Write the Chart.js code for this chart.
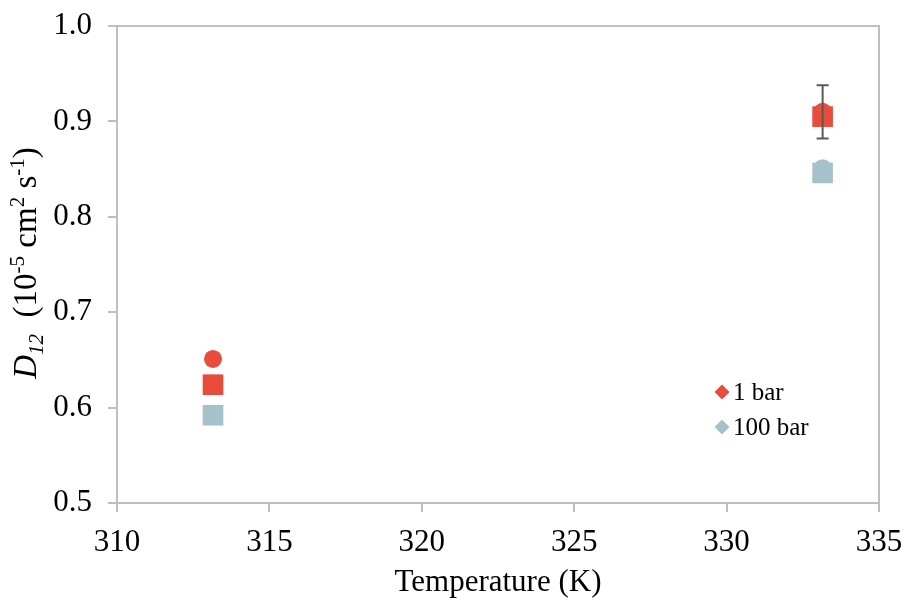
<!DOCTYPE html>
<html>
<head>
<meta charset="utf-8">
<script src="https://cdn.jsdelivr.net/npm/chart.js@4.4.0/dist/chart.umd.min.js"></script>
<style>
  body { margin: 0; background: #fff; }
  #wrap { width: 904px; height: 601px; }
</style>
</head>
<body>
<div id="wrap"><canvas id="mycanvas"></canvas></div>
<script>
// temperatures (K)
var temps = [313.15, 333.15];
// D12 values, 1e-5 cm2/s
var circ1bar = [0.651, 0.910];
var sq1bar = [0.624, 0.905];
var circ100bar = [null, 0.851];
var sq100bar = [0.592, 0.846];
// error on the 1 bar circles
var err1bar = [0, 0.028];
var legendLabels = ["1 bar", "100 bar"];
var xTicks = [310, 315, 320, 325, 330, 335];
var yTicks = [0.5, 0.6, 0.7, 0.8, 0.9, 1.0];

var red = "#E84C3D";
var blue = "#A5C2CB";
var serif = "'Liberation Serif', 'Times New Roman', serif";

function pts(ys) {
	var out = [];
	for (var i in temps) {
		if (ys[i] != null) out.push({x: temps[i], y: ys[i]});
	}
	return out;
}

var errorBars = {
	id: "errorBars",
	afterDatasetsDraw: function(chart) {
		var ctx = chart.ctx, xs = chart.scales.x, ys = chart.scales.y;
		ctx.save();
		ctx.strokeStyle = "#595959";
		ctx.lineWidth = 2;
		for (var i in temps) {
			if (!err1bar[i]) continue;
			var px = xs.getPixelForValue(temps[i]);
			var top = ys.getPixelForValue(circ1bar[i] + err1bar[i]);
			var bot = ys.getPixelForValue(circ1bar[i] - err1bar[i]);
			ctx.beginPath();
			ctx.moveTo(px, top); ctx.lineTo(px, bot);
			ctx.moveTo(px - 6, top); ctx.lineTo(px + 6, top);
			ctx.moveTo(px - 6, bot); ctx.lineTo(px + 6, bot);
			ctx.stroke();
		}
		ctx.restore();
	}
};

var extras = {
	id: "extras",
	afterDraw: function(chart) {
		var ctx = chart.ctx, area = chart.chartArea;
		ctx.save();
		// frame
		ctx.strokeStyle = "#BFBFBF";
		ctx.lineWidth = 2;
		ctx.strokeRect(area.left, area.top, area.right - area.left, area.bottom - area.top);

		// legend
		var cols = [red, blue];
		ctx.font = "25px " + serif;
		ctx.textBaseline = "middle";
		for (var i = 0; i < legendLabels.length; i++) {
			var ly = 392 + i * 35, lx = 722;
			ctx.fillStyle = cols[i];
			ctx.beginPath();
			ctx.moveTo(lx, ly - 7.5); ctx.lineTo(lx + 7.5, ly); ctx.lineTo(lx, ly + 7.5); ctx.lineTo(lx - 7.5, ly);
			ctx.closePath();
			ctx.fill();
			ctx.fillStyle = "#000";
			ctx.fillText(legendLabels[i], lx + 11, ly + 1);
		}

		// y axis title with sub/superscripts
		var parts = [
			{t: "D", f: "italic 33px ", dy: 0},
			{t: "12", f: "italic 21px ", dy: 7},
			{t: "  (10", f: "33px ", dy: 0},
			{t: "-5", f: "21px ", dy: -12},
			{t: " cm", f: "33px ", dy: 0},
			{t: "2", f: "21px ", dy: -12},
			{t: " s", f: "33px ", dy: 0},
			{t: "-1", f: "21px ", dy: -12},
			{t: ")", f: "33px ", dy: 0}
		];
		var total = 0;
		for (var j in parts) { ctx.font = parts[j].f + serif; total += ctx.measureText(parts[j].t).width; }
		ctx.translate(36, 263);
		ctx.rotate(-Math.PI / 2);
		ctx.fillStyle = "#000";
		ctx.textBaseline = "alphabetic";
		ctx.textAlign = "left";
		var cx = -total / 2;
		for (var k in parts) {
			ctx.font = parts[k].f + serif;
			ctx.fillText(parts[k].t, cx, parts[k].dy);
			cx += ctx.measureText(parts[k].t).width;
		}
		ctx.restore();
	}
};

var ctx = document.getElementById("mycanvas");
var chart = new Chart(ctx, {
	type: "scatter",
	data: {
		datasets: [
			{label: "1 bar circ", data: pts(circ1bar), pointStyle: "circle", pointRadius: 9, backgroundColor: red, borderWidth: 0},
			{label: "1 bar sq", data: pts(sq1bar), pointStyle: "rect", pointRadius: 14.6, backgroundColor: red, borderWidth: 0},
			{label: "100 bar circ", data: pts(circ100bar), pointStyle: "circle", pointRadius: 9, backgroundColor: blue, borderWidth: 0},
			{label: "100 bar sq", data: pts(sq100bar), pointStyle: "rect", pointRadius: 14.6, backgroundColor: blue, borderWidth: 0}
		]
	},
	options: {
		responsive: true,
		maintainAspectRatio: false,
		animation: false,
		layout: {padding: {left: 0, right: 25, top: 26, bottom: 0}},
		plugins: {legend: {display: false}, tooltip: {enabled: false}},
		elements: {point: {hoverRadius: 0}},
		scales: {
			x: {
				type: "linear", min: 310, max: 335,
				afterBuildTicks: function(s) { s.ticks = xTicks.map(function(v) { return {value: v}; }); },
				afterFit: function(s) { s.height = 98; s.paddingLeft = 0; s.paddingRight = 0; },
				grid: {display: true, drawOnChartArea: false, drawTicks: true, tickLength: 9, color: "#BFBFBF", lineWidth: 2},
				border: {display: false},
				ticks: {color: "#000", font: {family: serif, size: 31}, padding: 12, maxRotation: 0},
				title: {display: true, text: "Temperature (K)", color: "#000", font: {family: serif, size: 31}, padding: {top: 0, bottom: 0}}
			},
			y: {
				type: "linear", min: 0.5, max: 1.0,
				afterBuildTicks: function(s) { s.ticks = yTicks.map(function(v) { return {value: v}; }); },
				afterFit: function(s) { s.width = 117; s.paddingTop = 0; s.paddingBottom = 0; },
				grid: {display: true, drawOnChartArea: false, drawTicks: true, tickLength: 9, color: "#BFBFBF", lineWidth: 2},
				border: {display: false},
				ticks: {color: "#000", font: {family: serif, size: 31}, padding: 16, callback: function(v) { return v.toFixed(1); }}
			}
		}
	},
	plugins: [errorBars, extras]
});
</script>
</body>
</html>
